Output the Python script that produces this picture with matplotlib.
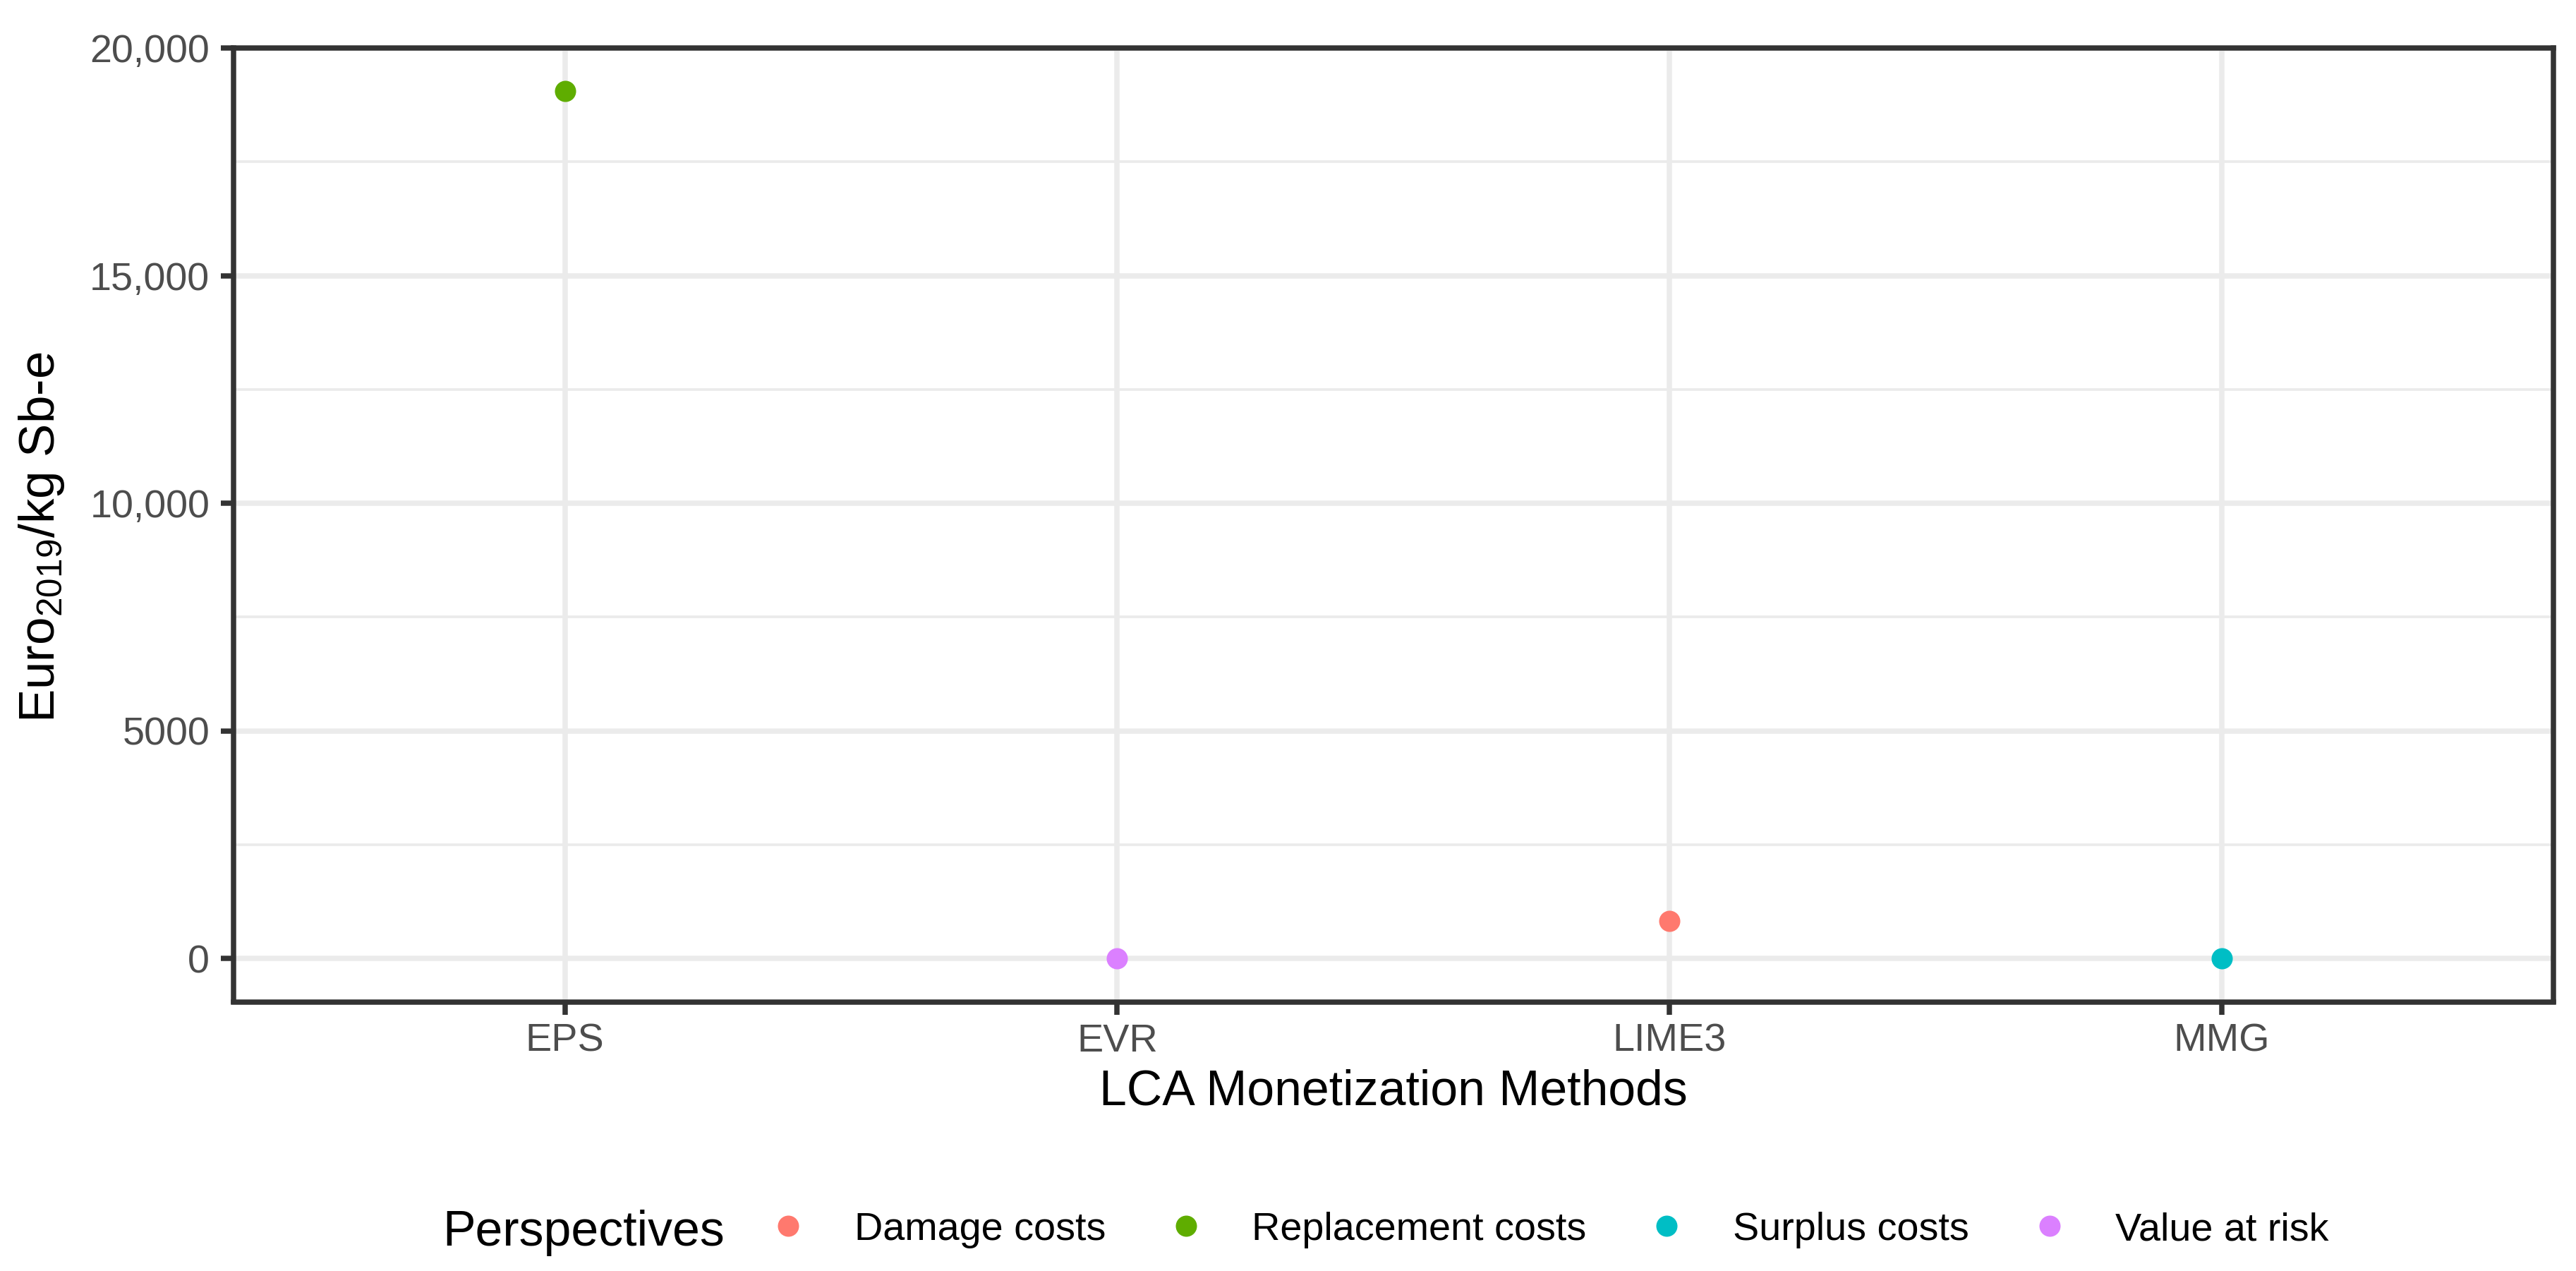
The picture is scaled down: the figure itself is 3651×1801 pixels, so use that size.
import matplotlib
matplotlib.use("Agg")
import matplotlib.pyplot as plt
from matplotlib.lines import Line2D
from matplotlib.ticker import FixedLocator

plt.rcParams['font.family'] = ['Liberation Sans', 'DejaVu Sans']
plt.rcParams['mathtext.fontset'] = 'custom'
plt.rcParams['mathtext.rm'] = 'Liberation Sans'

# ---- data ----
methods = ["EPS", "EVR", "LIME3", "MMG"]
perspectives = ["Replacement costs", "Value at risk", "Damage costs", "Surplus costs"]
values = [19050, 2, 820, 5]
legend_order = ["Damage costs", "Replacement costs", "Surplus costs", "Value at risk"]
colors = {"Damage costs": "#FF796E", "Replacement costs": "#5FAD00",
          "Surplus costs": "#00BEC5", "Value at risk": "#DB80FF"}
ytick_values = [0, 5000, 10000, 15000, 20000]
ytick_labels = ["0", "5000", "10,000", "15,000", "20,000"]
yminor_values = [2500, 7500, 12500, 17500]

W, H = 3651, 1801
fig = plt.figure(figsize=(W / 300, H / 300), dpi=300)
left, right, top, bottom = 331, 3618.5, 68, 1419.5
ax = fig.add_axes([left / W, 1 - bottom / H, (right - left) / W, (bottom - top) / H])

xpos = list(range(len(methods)))
for i, (m, p, v) in enumerate(zip(methods, perspectives, values)):
    ax.scatter([xpos[i]], [v], s=52, color=colors[p], linewidths=0, zorder=3)

ax.set_xlim(-0.6, len(methods) - 0.4)
ax.set_ylim(-952, 20000)
ax.set_xticks(xpos)
ax.set_xticklabels(methods)
ax.yaxis.set_major_locator(FixedLocator(ytick_values))
ax.set_yticklabels(ytick_labels)
ax.yaxis.set_minor_locator(FixedLocator(yminor_values))

grid_c = "#EBEBEB"
ax.set_axisbelow(True)
ax.grid(True, which='major', color=grid_c, linewidth=1.8, zorder=0)
ax.grid(True, which='minor', axis='y', color=grid_c, linewidth=0.9, zorder=0)
ax.tick_params(axis='y', which='minor', length=0)
ax.tick_params(axis='both', which='major', length=4.3, width=1.8, color="#333333",
               labelsize=13.4, labelcolor="#4D4D4D")
ax.tick_params(axis='x', pad=3.0)
ax.tick_params(axis='y', pad=3.8)
for s in ax.spines.values():
    s.set_color("#333333")
    s.set_linewidth(1.8)
    s.set_zorder(4)

ax.set_xlabel("LCA Monetization Methods", fontsize=16.75, color="black", labelpad=3.0)
ax.set_ylabel(r"Euro$_{\mathregular{2019}}$/kg Sb-e", fontsize=17.0, color="black", labelpad=8)
ax.yaxis.label.set_y(0.5 - 18 / (bottom - top))

# legend
handles = [Line2D([], [], linestyle='none', marker='o', markersize=7.2,
                  markerfacecolor=colors[k], markeredgewidth=0) for k in legend_order]
fs = 13.4
leg = fig.legend(handles, legend_order, loc='center left', ncol=4, frameon=False,
                 fontsize=fs, handlelength=1.0, handletextpad=1.175, columnspacing=1.54,
                 borderpad=0, borderaxespad=0,
                 bbox_to_anchor=((1117 - 27.9) / W, 1 - 1743 / H))
fig.text(627 / W, 1 - 1765 / H, "Perspectives", fontsize=16.75, color="black",
         ha='left', va='baseline')

fig.savefig("out.png", dpi=300, facecolor="white")
